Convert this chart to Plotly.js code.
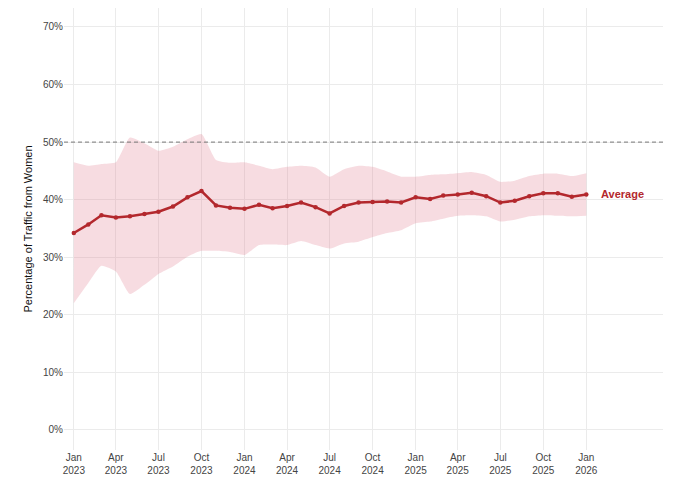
<!DOCTYPE html>
<html>
<head>
<meta charset="utf-8">
<script src="https://cdn.plot.ly/plotly-3.0.1.min.js"></script>
<style>
  html, body { margin: 0; padding: 0; background: #fff; }
  #chart { width: 680px; height: 489px; }
</style>
</head>
<body>
<div id="chart"></div>
<script>
// monthly, Jan 2023 .. Jan 2026
var months = [
  '2023-01-01', '2023-02-01', '2023-03-01', '2023-04-01', '2023-05-01', '2023-06-01',
  '2023-07-01', '2023-08-01', '2023-09-01', '2023-10-01', '2023-11-01', '2023-12-01',
  '2024-01-01', '2024-02-01', '2024-03-01', '2024-04-01', '2024-05-01', '2024-06-01',
  '2024-07-01', '2024-08-01', '2024-09-01', '2024-10-01', '2024-11-01', '2024-12-01',
  '2025-01-01', '2025-02-01', '2025-03-01', '2025-04-01', '2025-05-01', '2025-06-01',
  '2025-07-01', '2025-08-01', '2025-09-01', '2025-10-01', '2025-11-01', '2025-12-01',
  '2026-01-01'
];

var average = [
  34.2, 35.7, 37.3, 36.9, 37.1, 37.5, 37.9, 38.8, 40.4, 41.5, 39.0, 38.6,
  38.4, 39.1, 38.5, 38.9, 39.5, 38.7, 37.6, 38.9, 39.5, 39.6, 39.7, 39.5,
  40.4, 40.1, 40.7, 40.9, 41.2, 40.6, 39.5, 39.8, 40.6, 41.1, 41.1, 40.5,
  40.9
];

var upper = [
  46.5, 45.9, 46.2, 46.5, 50.8, 49.8, 48.5, 49.2, 50.5, 51.4, 46.9, 46.4,
  46.5, 45.9, 45.3, 45.7, 45.9, 45.6, 44.0, 45.3, 45.9, 45.7, 44.9, 44.0,
  44.0, 44.3, 44.4, 44.6, 44.8, 44.3, 43.1, 43.3, 44.1, 44.5, 44.5, 44.1,
  44.6
];

var lower = [
  22.0, 25.5, 28.5, 27.5, 23.6, 25.2, 27.1, 28.4, 30.1, 31.1, 31.1, 30.9,
  30.4, 32.1, 32.2, 32.1, 32.8, 32.1, 31.5, 32.4, 32.7, 33.5, 34.2, 34.7,
  35.9, 36.2, 36.7, 37.2, 37.3, 37.1, 36.2, 36.5, 37.1, 37.3, 37.2, 37.1,
  37.2
];

// quarterly ticks
var xTicks = [
  '2023-01-01', '2023-04-01', '2023-07-01', '2023-10-01',
  '2024-01-01', '2024-04-01', '2024-07-01', '2024-10-01',
  '2025-01-01', '2025-04-01', '2025-07-01', '2025-10-01',
  '2026-01-01'
];
var xTickText = [
  'Jan<br>2023', 'Apr<br>2023', 'Jul<br>2023', 'Oct<br>2023',
  'Jan<br>2024', 'Apr<br>2024', 'Jul<br>2024', 'Oct<br>2024',
  'Jan<br>2025', 'Apr<br>2025', 'Jul<br>2025', 'Oct<br>2025',
  'Jan<br>2026'
];
var yTicks = [0, 10, 20, 30, 40, 50, 60, 70];
var yTickText = ['0%', '10%', '20%', '30%', '40%', '50%', '60%', '70%'];

var refLevel = 50;
var lineColor = '#b3282d';

var traceLower = {
  x: months,
  y: lower,
  type: 'scatter',
  mode: 'lines',
  line: {width: 0, shape: 'spline', smoothing: 0.5},
  hoverinfo: 'skip',
  showlegend: false
};

var traceUpper = {
  x: months,
  y: upper,
  type: 'scatter',
  mode: 'lines',
  fill: 'tonexty',
  fillcolor: 'rgba(220, 110, 130, 0.24)',
  line: {width: 0, shape: 'spline', smoothing: 0.5},
  hoverinfo: 'skip',
  showlegend: false
};

var traceAvg = {
  x: months,
  y: average,
  type: 'scatter',
  mode: 'lines+markers',
  line: {color: lineColor, width: 2.5},
  marker: {color: lineColor, size: 4.5},
  name: 'Average',
  showlegend: false
};

var layout = {
  width: 680,
  height: 489,
  margin: {l: 64, r: 17, t: 8, b: 39},
  paper_bgcolor: '#fff',
  plot_bgcolor: '#fff',
  font: {family: 'Liberation Sans, Arial, sans-serif', size: 10, color: '#444'},
  xaxis: {
    type: 'date',
    range: ['2022-12-11', '2026-06-14'],
    tickmode: 'array',
    tickvals: xTicks,
    ticktext: xTickText,
    showgrid: true,
    gridcolor: '#ebebeb',
    gridwidth: 1,
    zeroline: false,
    showline: false,
    ticks: '',
    tickfont: {size: 10, color: '#444'}
  },
  yaxis: {
    range: [-3.5, 73.3],
    tickmode: 'array',
    tickvals: yTicks,
    ticktext: yTickText,
    showgrid: true,
    gridcolor: '#ebebeb',
    gridwidth: 1,
    zeroline: false,
    showline: false,
    ticks: '',
    tickfont: {size: 10, color: '#444'},
    title: {
      text: 'Percentage of Traffic from Women',
      font: {size: 11, color: '#111'},
      standoff: 8
    }
  },
  shapes: [{
    type: 'line',
    xref: 'paper',
    x0: 0,
    x1: 1,
    yref: 'y',
    y0: refLevel,
    y1: refLevel,
    line: {color: '#777', width: 1, dash: '4px,3px'}
  }],
  annotations: [{
    x: months[months.length - 1],
    y: average[average.length - 1],
    xref: 'x',
    yref: 'y',
    text: '<b>Average</b>',
    showarrow: false,
    xanchor: 'left',
    xshift: 13,
    font: {size: 11, color: lineColor}
  }]
};

Plotly.newPlot('chart', [traceLower, traceUpper, traceAvg], layout, {displayModeBar: false, staticPlot: true});
</script>
</body>
</html>
